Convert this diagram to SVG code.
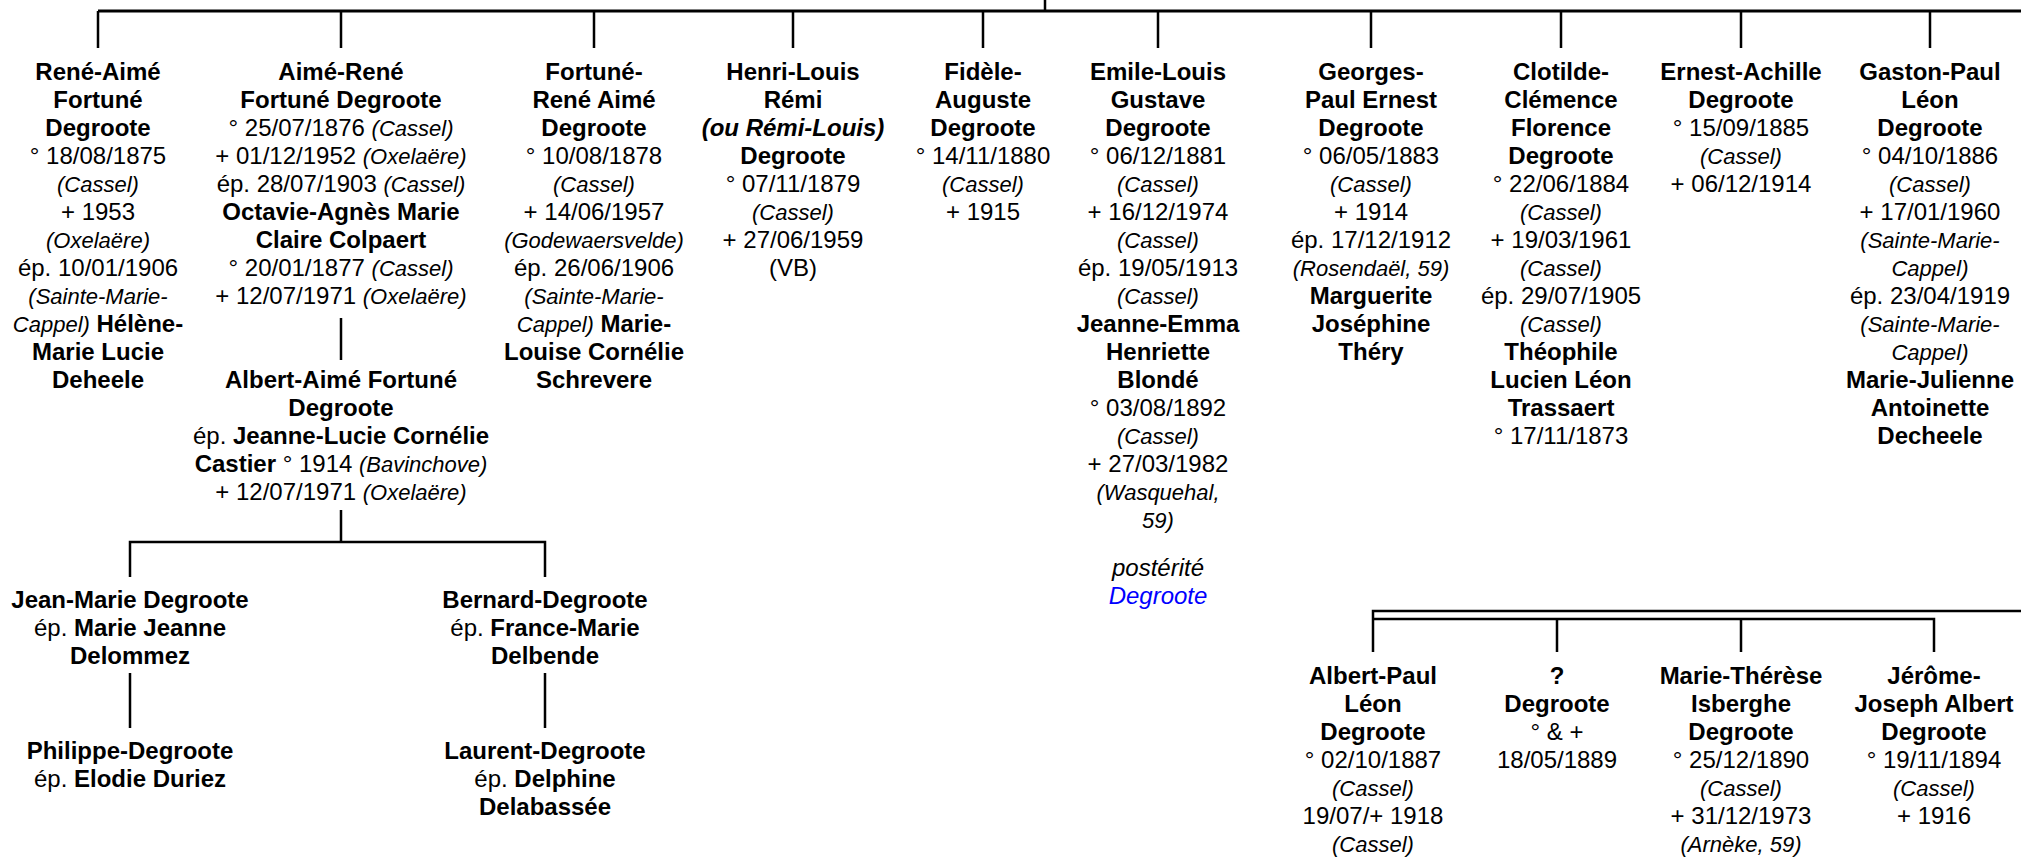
<svg xmlns="http://www.w3.org/2000/svg" width="2021" height="858" viewBox="0 0 2021 858">
<style>
text{font-family:"Liberation Sans",Arial,sans-serif;font-size:24px;text-anchor:middle;fill:#000}
.b{font-weight:bold}
.i{font-style:italic;font-size:22px}
.bi{font-weight:bold;font-style:italic}
.p{font-style:italic}
.lk{font-style:italic;fill:#0000ff}
.c path{fill:none;stroke:#000;stroke-width:2.5}
.c .h{stroke-width:3}
</style>
<rect width="2021" height="858" fill="#fff"/>
<g class="c" id="connectors">
<path class="h" d="M98,11 H2021"/>
<path d="M98,48 V11 M1045,0 V11 M341,11 V48 M594,11 V48 M793,11 V48 M983,11 V48 M1158,11 V48 M1371,11 V48 M1561,11 V48 M1741,11 V48 M1930,11 V48"/>
<path d="M341,318 V360"/>
<path d="M341,510 V542 M130,577 V542 H545 V577"/>
<path d="M130,673 V728 M545,673 V728"/>
<path d="M2021,611 H1373 V652 M1373,619 H1934 V652 M1557,619 V652 M1741,619 V652"/>
</g>
<g id="n-rene-aime" transform="translate(98,0)">
<text y="80" class="b">René-Aimé</text>
<text y="108" class="b">Fortuné</text>
<text y="136" class="b">Degroote</text>
<text y="164">° 18/08/1875</text>
<text y="192" class="i">(Cassel)</text>
<text y="220">+ 1953</text>
<text y="248" class="i">(Oxelaëre)</text>
<text y="276">ép. 10/01/1906</text>
<text y="304" class="i">(Sainte-Marie-</text>
<text y="332"><tspan class="i">Cappel)</tspan> <tspan class="b">Hélène-</tspan></text>
<text y="360" class="b">Marie Lucie</text>
<text y="388" class="b">Deheele</text>
</g>
<g id="n-aime-rene" transform="translate(341,0)">
<text y="80" class="b">Aimé-René</text>
<text y="108" class="b">Fortuné Degroote</text>
<text y="136">° 25/07/1876 <tspan class="i">(Cassel)</tspan></text>
<text y="164">+ 01/12/1952 <tspan class="i">(Oxelaëre)</tspan></text>
<text y="192">ép. 28/07/1903 <tspan class="i">(Cassel)</tspan></text>
<text y="220" class="b">Octavie-Agnès Marie</text>
<text y="248" class="b">Claire Colpaert</text>
<text y="276">° 20/01/1877 <tspan class="i">(Cassel)</tspan></text>
<text y="304">+ 12/07/1971 <tspan class="i">(Oxelaëre)</tspan></text>
</g>
<g id="n-albert-aime" transform="translate(341,0)">
<text y="388" class="b">Albert-Aimé Fortuné</text>
<text y="416" class="b">Degroote</text>
<text y="444">ép. <tspan class="b">Jeanne-Lucie Cornélie</tspan></text>
<text y="472"><tspan class="b">Castier</tspan> ° 1914 <tspan class="i">(Bavinchove)</tspan></text>
<text y="500">+ 12/07/1971 <tspan class="i">(Oxelaëre)</tspan></text>
</g>
<g id="n-fortune" transform="translate(594,0)">
<text y="80" class="b">Fortuné-</text>
<text y="108" class="b">René Aimé</text>
<text y="136" class="b">Degroote</text>
<text y="164">° 10/08/1878</text>
<text y="192" class="i">(Cassel)</text>
<text y="220">+ 14/06/1957</text>
<text y="248" class="i">(Godewaersvelde)</text>
<text y="276">ép. 26/06/1906</text>
<text y="304" class="i">(Sainte-Marie-</text>
<text y="332"><tspan class="i">Cappel)</tspan> <tspan class="b">Marie-</tspan></text>
<text y="360" class="b">Louise Cornélie</text>
<text y="388" class="b">Schrevere</text>
</g>
<g id="n-henri-louis" transform="translate(793,0)">
<text y="80" class="b">Henri-Louis</text>
<text y="108" class="b">Rémi</text>
<text y="136" class="bi">(ou Rémi-Louis)</text>
<text y="164" class="b">Degroote</text>
<text y="192">° 07/11/1879</text>
<text y="220" class="i">(Cassel)</text>
<text y="248">+ 27/06/1959</text>
<text y="276">(VB)</text>
</g>
<g id="n-fidele" transform="translate(983,0)">
<text y="80" class="b">Fidèle-</text>
<text y="108" class="b">Auguste</text>
<text y="136" class="b">Degroote</text>
<text y="164">° 14/11/1880</text>
<text y="192" class="i">(Cassel)</text>
<text y="220">+ 1915</text>
</g>
<g id="n-emile-louis" transform="translate(1158,0)">
<text y="80" class="b">Emile-Louis</text>
<text y="108" class="b">Gustave</text>
<text y="136" class="b">Degroote</text>
<text y="164">° 06/12/1881</text>
<text y="192" class="i">(Cassel)</text>
<text y="220">+ 16/12/1974</text>
<text y="248" class="i">(Cassel)</text>
<text y="276">ép. 19/05/1913</text>
<text y="304" class="i">(Cassel)</text>
<text y="332" class="b">Jeanne-Emma</text>
<text y="360" class="b">Henriette</text>
<text y="388" class="b">Blondé</text>
<text y="416">° 03/08/1892</text>
<text y="444" class="i">(Cassel)</text>
<text y="472">+ 27/03/1982</text>
<text y="500" class="i">(Wasquehal,</text>
<text y="528" class="i">59)</text>
<text y="576" class="p">postérité</text>
<text y="604" class="lk">Degroote</text>
</g>
<g id="n-georges-paul" transform="translate(1371,0)">
<text y="80" class="b">Georges-</text>
<text y="108" class="b">Paul Ernest</text>
<text y="136" class="b">Degroote</text>
<text y="164">° 06/05/1883</text>
<text y="192" class="i">(Cassel)</text>
<text y="220">+ 1914</text>
<text y="248">ép. 17/12/1912</text>
<text y="276" class="i">(Rosendaël, 59)</text>
<text y="304" class="b">Marguerite</text>
<text y="332" class="b">Joséphine</text>
<text y="360" class="b">Théry</text>
</g>
<g id="n-clotilde" transform="translate(1561,0)">
<text y="80" class="b">Clotilde-</text>
<text y="108" class="b">Clémence</text>
<text y="136" class="b">Florence</text>
<text y="164" class="b">Degroote</text>
<text y="192">° 22/06/1884</text>
<text y="220" class="i">(Cassel)</text>
<text y="248">+ 19/03/1961</text>
<text y="276" class="i">(Cassel)</text>
<text y="304">ép. 29/07/1905</text>
<text y="332" class="i">(Cassel)</text>
<text y="360" class="b">Théophile</text>
<text y="388" class="b">Lucien Léon</text>
<text y="416" class="b">Trassaert</text>
<text y="444">° 17/11/1873</text>
</g>
<g id="n-ernest-achille" transform="translate(1741,0)">
<text y="80" class="b">Ernest-Achille</text>
<text y="108" class="b">Degroote</text>
<text y="136">° 15/09/1885</text>
<text y="164" class="i">(Cassel)</text>
<text y="192">+ 06/12/1914</text>
</g>
<g id="n-gaston-paul" transform="translate(1930,0)">
<text y="80" class="b">Gaston-Paul</text>
<text y="108" class="b">Léon</text>
<text y="136" class="b">Degroote</text>
<text y="164">° 04/10/1886</text>
<text y="192" class="i">(Cassel)</text>
<text y="220">+ 17/01/1960</text>
<text y="248" class="i">(Sainte-Marie-</text>
<text y="276" class="i">Cappel)</text>
<text y="304">ép. 23/04/1919</text>
<text y="332" class="i">(Sainte-Marie-</text>
<text y="360" class="i">Cappel)</text>
<text y="388" class="b">Marie-Julienne</text>
<text y="416" class="b">Antoinette</text>
<text y="444" class="b">Decheele</text>
</g>
<g id="n-jean-marie" transform="translate(130,0)">
<text y="608" class="b">Jean-Marie Degroote</text>
<text y="636">ép. <tspan class="b">Marie Jeanne</tspan></text>
<text y="664" class="b">Delommez</text>
</g>
<g id="n-philippe" transform="translate(130,0)">
<text y="759" class="b">Philippe-Degroote</text>
<text y="787">ép. <tspan class="b">Elodie Duriez</tspan></text>
</g>
<g id="n-bernard" transform="translate(545,0)">
<text y="608" class="b">Bernard-Degroote</text>
<text y="636">ép. <tspan class="b">France-Marie</tspan></text>
<text y="664" class="b">Delbende</text>
</g>
<g id="n-laurent" transform="translate(545,0)">
<text y="759" class="b">Laurent-Degroote</text>
<text y="787">ép. <tspan class="b">Delphine</tspan></text>
<text y="815" class="b">Delabassée</text>
</g>
<g id="n-albert-paul" transform="translate(1373,0)">
<text y="684" class="b">Albert-Paul</text>
<text y="712" class="b">Léon</text>
<text y="740" class="b">Degroote</text>
<text y="768">° 02/10/1887</text>
<text y="796" class="i">(Cassel)</text>
<text y="824">19/07/+ 1918</text>
<text y="852" class="i">(Cassel)</text>
</g>
<g id="n-unknown" transform="translate(1557,0)">
<text y="684" class="b">?</text>
<text y="712" class="b">Degroote</text>
<text y="740">° &amp; +</text>
<text y="768">18/05/1889</text>
</g>
<g id="n-marie-therese" transform="translate(1741,0)">
<text y="684" class="b">Marie-Thérèse</text>
<text y="712" class="b">Isberghe</text>
<text y="740" class="b">Degroote</text>
<text y="768">° 25/12/1890</text>
<text y="796" class="i">(Cassel)</text>
<text y="824">+ 31/12/1973</text>
<text y="852" class="i">(Arnèke, 59)</text>
</g>
<g id="n-jerome" transform="translate(1934,0)">
<text y="684" class="b">Jérôme-</text>
<text y="712" class="b">Joseph Albert</text>
<text y="740" class="b">Degroote</text>
<text y="768">° 19/11/1894</text>
<text y="796" class="i">(Cassel)</text>
<text y="824">+ 1916</text>
</g>
</svg>
